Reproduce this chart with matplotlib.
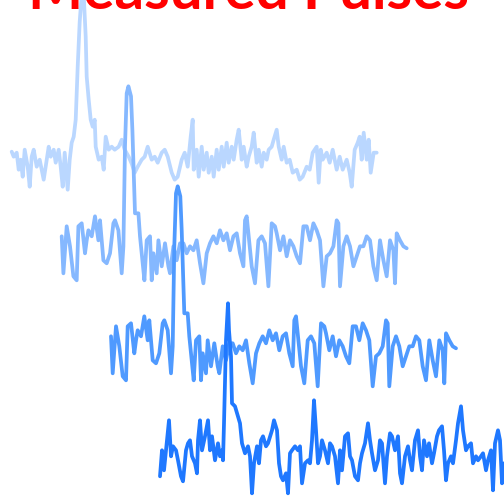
import matplotlib
matplotlib.use("Agg")
import matplotlib.pyplot as plt

# measured pulse traces: time (samples) and amplitude relative to the baseline
t_first = [0, 2, 5, 7, 9, 11, 13, 16, 18, 20, 22, 25, 28, 30, 32, 35, 37, 39, 42, 44,
           47, 49, 51, 53, 56, 58, 60, 62, 64, 66, 68, 70, 72, 74, 75, 77, 79, 81, 83, 84,
           87, 90, 92, 94, 97, 100, 103, 107, 110, 113, 117, 120, 123, 126, 130, 133, 136, 140, 143, 146,
           150, 153, 156, 160, 163, 166, 170, 173, 176, 179, 181, 182, 185, 187, 190, 192, 195, 197, 200, 202,
           205, 207, 210, 212, 215, 217, 220, 222, 225, 227, 230, 232, 235, 237, 240, 242, 245, 247, 250, 252,
           255, 257, 260, 262, 265, 267, 270, 272, 275, 278, 281, 285, 288, 291, 295, 298, 301, 305, 307, 309,
           311, 315, 318, 321, 325, 328, 331, 335, 338, 340, 343, 346, 348, 350, 352, 355, 357, 359, 362, 365]
a_first = [5, 0, 4, -13, -3, -20, 7, -10, -30, 0, 7, -10, -3, -13, -23, -3, 10, 0, 7, -6,
           7, -10, -30, 4, -33, -3, 14, 20, 37, 90, 135, 162, 162, 120, 80, 57, 37, 30, 37, 10,
           -3, 0, -13, 20, 7, 10, 7, 10, 17, 7, 0, -7, -16, -10, -3, 0, 10, -3, 0, -6,
           4, 7, 0, -16, -23, -20, -3, 4, -10, 20, 37, -13, 7, -20, 10, -13, 4, -16, 0, -20,
           7, -13, 10, -10, 14, -6, 10, -3, 17, 27, -3, 10, -10, 0, 10, 24, -6, 7, -10, 4,
           -3, 7, 10, 17, 27, 10, -3, 10, -6, -3, -16, -13, -23, -20, -10, -13, 4, 10, -26, 7,
           -3, 4, -6, 7, -13, 0, -13, -3, -16, -30, 7, 14, 20, -3, 24, -3, 17, -16, 4, 4]

# the second and third traces share the same record
t_mid = [0, 1.7, 5, 8.3, 11.7, 15, 16.7, 20, 23.3, 25, 26.7, 30, 33.3, 36.7, 38.3, 41.7, 45, 48.3, 51.7, 53.3,
         56.7, 60, 61.7, 63.3, 65, 66.7, 69.3, 70.7, 73.3, 76.7, 78.3, 80.7, 82.7, 85, 88.3, 90, 91.7, 95, 96.7, 100,
         103.3, 106.7, 108.3, 111.7, 115, 118.3, 121.7, 125, 128.3, 131.7, 135, 138.3, 141.7, 145, 148.3, 151.7, 155, 158.3, 161.7, 165,
         168.3, 171.7, 175, 178.3, 181.7, 183.3, 185, 186.7, 190, 193.3, 196.7, 200, 203.3, 206.7, 210, 213.3, 215, 218.3, 221.7, 225,
         228.3, 231.7, 235, 238.3, 241.7, 245, 248.3, 251.7, 255, 258.3, 261.7, 265, 268.3, 271.7, 275, 276.7, 278.3, 281.7, 285, 288.3,
         291.7, 295, 298.3, 301.7, 305, 308.3, 311.7, 315, 318.3, 321.7, 325, 328.3, 331.7, 333.3, 335, 338.3, 341.7, 345]
a_mid = [7, -30, 17, -3, -33, -37, 17, 20, -10, 3, 13, 7, 27, 3, 23, -17, -20, -10, 20, 23,
         13, -30, -3, 97, 150, 157, 147, 113, 30, 30, 7, -17, -37, 3, 7, -37, -10, -30, 3, -23,
         0, -23, -30, -3, -17, 0, 0, -10, -3, -7, 3, -20, -40, -10, 0, 7, 0, 13, 3, 10,
         -7, 7, 10, -10, -23, 23, 27, 10, -23, -40, 3, 7, 0, -43, 20, 17, 10, -7, 7, -13,
         3, -3, -13, -20, 17, 17, 3, 20, 13, 3, -43, -13, -10, -3, 23, 20, -43, -3, 7, -3,
         -23, -13, -3, -3, 7, 3, -23, -37, 3, -17, -33, 3, -7, -40, 10, 3, -3, -5]

t_last = [0, 2, 4, 7, 9, 11, 13, 16, 18, 21, 23, 26, 28, 30, 32, 35, 37, 38, 40, 42,
          45, 48, 50, 52, 55, 58, 60, 62, 63, 64, 66, 68, 69, 71, 72, 75, 78, 80, 82, 85,
          88, 90, 92, 94, 97, 99, 101, 103, 106, 108, 112, 114, 117, 119, 121, 123, 126, 128, 130, 132,
          135, 138, 140, 142, 145, 148, 150, 152, 154, 156, 158, 160, 162, 165, 168, 170, 172, 175, 178, 180,
          182, 185, 188, 190, 192, 195, 198, 200, 202, 205, 208, 210, 212, 215, 218, 220, 222, 225, 227, 230,
          232, 235, 238, 240, 242, 245, 248, 250, 252, 255, 258, 260, 262, 264, 267, 269, 272, 274, 277, 279,
          282, 284, 286, 288, 291, 293, 296, 298, 301, 303, 306, 308, 311, 313, 316, 318, 321, 323, 326, 328,
          331, 333, 335, 338, 340, 342, 344]
a_last = [-23, 3, -17, 13, 33, -3, 7, 3, -7, -23, -28, 3, 10, 13, -3, -10, -20, 13, 33, 3,
          17, 33, 3, 17, -7, 10, -3, 3, -7, 30, 113, 150, 123, 97, 50, 47, 37, 30, 10, 0,
          7, -3, -40, -10, 7, -10, 13, 17, 7, 10, 23, 33, 23, -10, -23, -27, -20, -40, 0, 3,
          7, 3, 7, -30, -10, -7, -10, 13, 53, 23, -10, -3, 13, 3, -10, 10, 7, -3, -30, 3,
          -17, 17, 20, -3, -7, -23, -27, -10, 0, 10, 30, 13, 0, -17, -7, 13, 10, -30, -3, 20,
          17, 3, 17, -20, -30, -3, 7, -7, -17, 13, 23, -3, -17, 13, -3, 10, -10, 0, 17, 23,
          27, 3, -27, -10, -3, -10, 13, 30, 47, 23, 3, 7, 10, -10, -3, -7, -3, 0, -17, -7,
          3, -37, 10, 23, 13, -30, -10]

traces = [(t_first, a_first), (t_mid, a_mid), (t_mid, a_mid), (t_last, a_last)]
x_starts = [11.7, 61.7, 111, 160]
baselines = [340.3, 253.7, 153.7, 43.7]
colors = ['#bad7ff', '#85b8ff', '#4f9aff', '#1f78ff']

fig = plt.figure(figsize=(5.04, 4.97), dpi=100)
ax = fig.add_axes([0, 0, 1, 1])

for (t, a), x0, y0, c in zip(traces, x_starts, baselines, colors):
    ax.plot([x0 + v for v in t], [y0 + v for v in a], color=c, linewidth=2.7,
            solid_joinstyle='round', solid_capstyle='round')

ax.text(248, 488, "Measured Pulses", color='#ff0000', fontsize=42,
        fontweight='bold', family='Lato', ha='center', va='baseline')

ax.set_xlim(0, 504)
ax.set_ylim(0, 497)
ax.axis('off')

fig.savefig("out.png", dpi=100, facecolor='white')
